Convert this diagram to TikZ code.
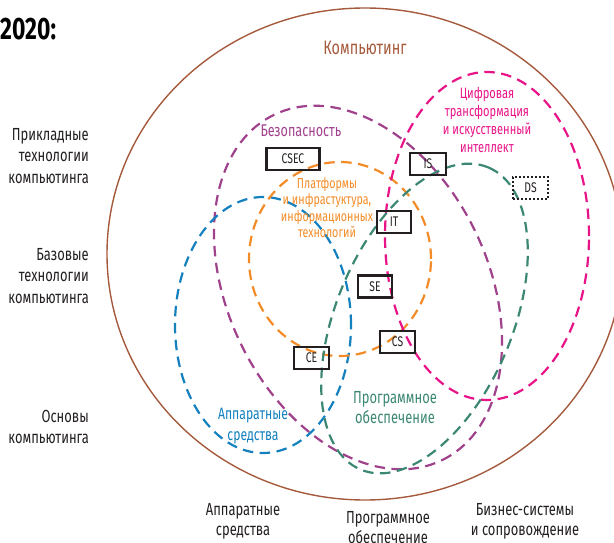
\documentclass[tikz,border=0pt]{standalone}
\usepackage{fontspec}
\setmainfont{Fira Sans}[FakeStretch=0.74]
\definecolor{brownc}{RGB}{165,90,60}
\definecolor{purplec}{RGB}{160,65,140}
\definecolor{pinkc}{RGB}{232,20,135}
\definecolor{orangec}{RGB}{243,140,40}
\definecolor{bluec}{RGB}{20,128,190}
\definecolor{greenc}{RGB}{60,135,115}
\definecolor{textc}{RGB}{35,31,32}
\begin{document}
\begin{tikzpicture}[x=1pt,y=1pt,
  area/.style={dash pattern=on 10.5pt off 6.5pt, line width=2.2pt},
  tag/.style={draw=textc, line width=2.2pt, minimum width=35pt, minimum height=22pt,
    inner sep=0pt, text=textc, font=\fontsize{14}{16}\selectfont},
  lbl/.style={align=center, inner sep=0pt},
  side/.style={align=right, inner sep=0pt, anchor=north east, text=textc,
    font=\fontsize{17.5}{21.5}\selectfont},
  foot/.style={align=center, inner sep=0pt, anchor=north, text=textc,
    font=\fontsize{17.5}{20}\selectfont}]
\clip (0,0) rectangle (614,542);

% outer field
\draw[brownc, line width=1.4pt] (365,288) ellipse [x radius=258pt, y radius=246pt];

% knowledge areas
\draw[area, purplec, rotate around={-64:(358,254.5)}] (358,254.5) ellipse [x radius=192pt, y radius=130pt];
\draw[area, bluec] (263,217) ellipse [x radius=88pt, y radius=128pt];
\draw[area, orangec] (340,283) ellipse [x radius=91pt, y radius=97pt];
\draw[area, pinkc] (487,306) ellipse [x radius=102pt, y radius=164pt];
\draw[area, greenc, rotate around={67:(424.5,223.5)}] (424.5,223.5) ellipse [x radius=164pt, y radius=88pt];

% disciplines
\node[tag, minimum width=53pt] (csec) at (293,383) {CSEC};
\node[tag, minimum width=36pt] (is) at (428,378) {IS};
\node[tag, minimum width=34.5pt] (it) at (394,320) {IT};
\node[tag, minimum width=34.5pt] (se) at (375,255.5) {SE};
\node[tag] (cs) at (397.5,200) {CS};
\node[tag] (ce) at (311.5,184) {CE};
\node[tag, dash pattern=on 2pt off 2pt] (ds) at (530.5,354) {DS};

% titles
\node[anchor=west, inner sep=0pt, text=black, font=\bfseries\fontsize{31}{31}\selectfont] (year) at (0,513) {2020:};
\node[inner sep=0pt, text=brownc, font=\fontsize{19.5}{22}\selectfont] (comp) at (365,494) {Компьютинг};
\node[inner sep=0pt, anchor=base, text=purplec, font=\fontsize{17}{20}\selectfont] (sec) at (301,405.3) {Безопасность};
\node[lbl, anchor=north, text=pinkc, font=\fontsize{15}{18}\selectfont] (dt) at (487,455)
  {Цифровая\\трансформация\\и искусственный\\интеллект};
\node[lbl, anchor=north, text=orangec, font=\fontsize{14.5}{16.5}\selectfont] (pl) at (327,365)
  {Платформы\\и инфрастуктура,\\информационных\\технологий};
\node[lbl, anchor=north, text=bluec, font=\fontsize{16.5}{21}\selectfont] (hw) at (253,133.7)
  {Аппаратные\\средства};
\node[lbl, anchor=north, text=greenc, font=\fontsize{17.5}{20}\selectfont] (sw) at (395,150.3)
  {Программное\\обеспечение};

% levels
\node[side] (lv1) at (89,414) {Прикладные\\технологии\\компьютинга};
\node[side] (lv2) at (89,294) {Базовые\\технологии\\компьютинга};
\node[side] (lv3) at (89,132) {Основы\\компьютинга};

% domains
\node[foot] (d1) at (243,38.7) {Аппаратные\\средства};
\node[foot] (d2) at (388,30.3) {Программное\\обеспечение};
\node[foot] (d3) at (525,38.7) {Бизнес-системы\\и сопровождение};
\end{tikzpicture}
\end{document}
